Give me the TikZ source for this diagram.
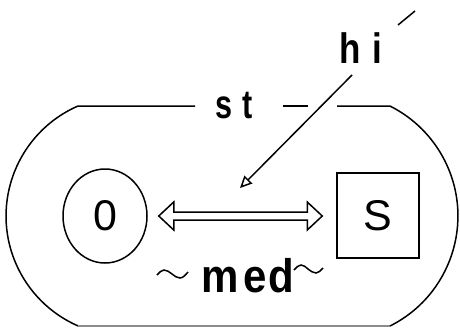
\documentclass[tikz,border=0pt]{standalone}
\usepackage{fontspec}
\setmainfont{Liberation Sans}
\usetikzlibrary{shapes.geometric,arrows.meta,calc}
\tikzset{
  lw/.style={line width=1.5pt},
  lbl/.style={font=\bfseries, inner sep=0pt, anchor=base},
  ent/.style={draw, lw, inner sep=0pt, font=\fontsize{43}{48}\selectfont},
}
\begin{document}
\begin{tikzpicture}[x=1pt,y=-1pt]
\useasboundingbox (0,0) rectangle (460,327);
% outer boundary
\draw[lw] (195,106) -- (78,106) arc[start angle=246.4,end angle=113.6,radius=120];
\draw[lw, black!45] (78,326) -- (390,326);
\draw[lw] (390,326) arc[start angle=63.4,end angle=-63.4,radius=123] -- (337,106);
\draw[lw] (283,106) -- (308,106);
% labels
\node[lbl] (st) at (234,118) {\scalebox{0.85}[1.12]{\fontsize{36}{40}\selectfont s\hspace{12pt}t}};
\node[lbl] (hi) at (361,63) {\scalebox{0.92}[1.12]{\fontsize{38}{44}\selectfont h\hspace{12pt}i}};
\node[lbl] (med) at (248,292) {\scalebox{1}[1.12]{\fontsize{42}{48}\selectfont m\hspace{4pt}e\hspace{2pt}d}};
% entities
\node[ent, ellipse, minimum width=84pt, minimum height=94pt] (O) at (105,216) {0};
\node[ent, rectangle, minimum width=82pt, minimum height=85pt] (S) at (378,215.5) {S};
% double arrow between O and S
\coordinate (aL) at ($(O.east)+(11,0)$);
\coordinate (aR) at ($(S.west)+(-14,0.5)$);
\draw[lw, line join=miter] (aL) -- ++(15,-14) -- ++(0,10) -- ($(aR)+(-15,-4)$) -- ++(0,-10) -- (aR)
  -- ++(-15,14) -- ++(0,-10) -- ($(aL)+(15,4)$) -- ++(0,10) -- cycle;
% hi arrow
\coordinate (hs) at (352,75);
\coordinate (ht) at (240,188);
\draw[lw, -{Triangle[open, length=12pt, width=11pt]}] (hs) -- (ht);
\coordinate (t1) at (398,25);
\coordinate (t2) at (415,11);
\draw[lw] (t1) -- (t2);
% tildes
\draw[lw] (157,275) sin (164,270) cos (172,274) sin (180,278) cos (188,272);
\draw[lw] (294,270) sin (301,265) cos (308,269) sin (316,273) cos (323,268);
\end{tikzpicture}
\end{document}
